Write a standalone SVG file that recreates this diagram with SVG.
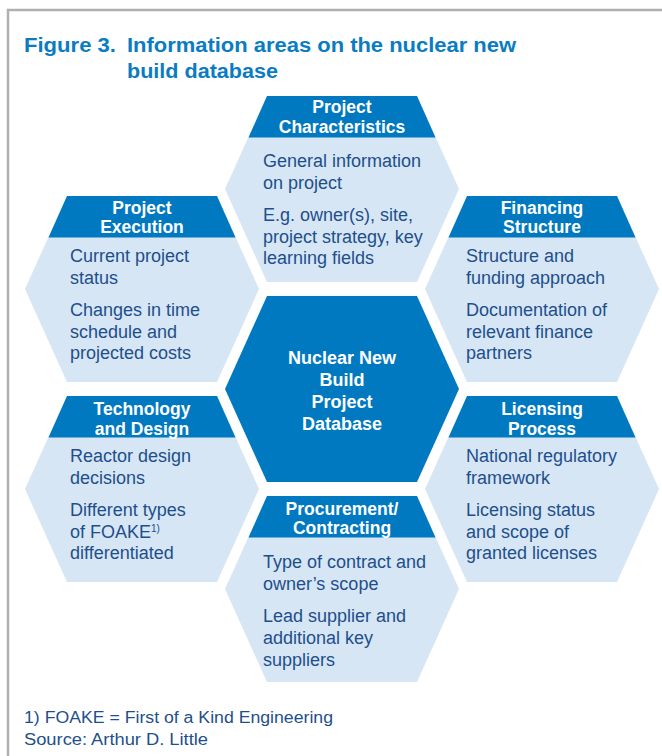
<svg xmlns="http://www.w3.org/2000/svg" width="662" height="756" viewBox="0 0 662 756">
<style>
.hex{fill:#d6e6f4}
.hdr{fill:#0079c1}
.core{fill:#0079c1}
.ht{font-family:"Liberation Sans",Arial,sans-serif;font-weight:bold;font-size:17.5px;fill:#fff;text-anchor:middle}
.ct{font-family:"Liberation Sans",Arial,sans-serif;font-weight:bold;font-size:18px;fill:#fff;text-anchor:middle}
.bt{font-family:"Liberation Sans",Arial,sans-serif;font-size:18px;fill:#1e4f8c}
.sup{font-size:10px}
.title{font-family:"Liberation Sans",Arial,sans-serif;font-weight:bold;font-size:20px;fill:#0a7cc2}
.foot{font-family:"Liberation Sans",Arial,sans-serif;font-size:16px;fill:#1e4f8c}
</style>
<defs>
<polygon id="hx" points="-75,-93 75,-93 117,0 75,93 -75,93 -117,0"/>
<polygon id="hh" points="-75,-93 75,-93 93.5,-51.5 -93.5,-51.5"/>
</defs>
<path d="M8,760 V10 H666" fill="none" stroke="#b0b0b0" stroke-width="2.5"/>
<g id="title">
<text class="title" x="24" y="52" textLength="92" lengthAdjust="spacingAndGlyphs">Figure 3.</text>
<text class="title" x="127" y="52" textLength="389" lengthAdjust="spacingAndGlyphs">Information areas on the nuclear new</text>
<text class="title" x="127" y="78" textLength="151" lengthAdjust="spacingAndGlyphs">build database</text>
</g>
<g id="connectors"></g>
<g id="project-characteristics">
<use href="#hx" class="hex" x="342" y="189"/>
<use href="#hh" class="hdr" x="342" y="189"/>
<text class="ht" x="342" y="113">Project</text>
<text class="ht" x="342" y="133">Characteristics</text>
<text class="bt" x="263" y="167">General information</text>
<text class="bt" x="263" y="188.5">on project</text>
<text class="bt" x="263" y="221">E.g. owner(s), site,</text>
<text class="bt" x="263" y="242.5">project strategy, key</text>
<text class="bt" x="263" y="264">learning fields</text>
</g>
<g id="project-execution">
<use href="#hx" class="hex" x="142" y="289"/>
<use href="#hh" class="hdr" x="142" y="289"/>
<text class="ht" x="142" y="213.5">Project</text>
<text class="ht" x="142" y="233">Execution</text>
<text class="bt" x="70" y="262">Current project</text>
<text class="bt" x="70" y="283.5">status</text>
<text class="bt" x="70" y="316">Changes in time</text>
<text class="bt" x="70" y="337.5">schedule and</text>
<text class="bt" x="70" y="358.5">projected costs</text>
</g>
<g id="financing-structure">
<use href="#hx" class="hex" x="542" y="289"/>
<use href="#hh" class="hdr" x="542" y="289"/>
<text class="ht" x="542" y="213.5">Financing</text>
<text class="ht" x="542" y="233">Structure</text>
<text class="bt" x="466" y="262">Structure and</text>
<text class="bt" x="466" y="283.5">funding approach</text>
<text class="bt" x="466" y="316">Documentation of</text>
<text class="bt" x="466" y="337.5">relevant finance</text>
<text class="bt" x="466" y="358.5">partners</text>
</g>
<g id="database">
<use href="#hx" class="core" x="342" y="389"/>
<text class="ct" x="342" y="364">Nuclear New</text>
<text class="ct" x="342" y="386">Build</text>
<text class="ct" x="342" y="407.5">Project</text>
<text class="ct" x="342" y="429.5">Database</text>
</g>
<g id="technology-design">
<use href="#hx" class="hex" x="142" y="489"/>
<use href="#hh" class="hdr" x="142" y="489"/>
<text class="ht" x="142" y="414.5">Technology</text>
<text class="ht" x="142" y="434.5">and Design</text>
<text class="bt" x="70" y="462">Reactor design</text>
<text class="bt" x="70" y="483.5">decisions</text>
<text class="bt" x="70" y="516">Different types</text>
<text class="bt" x="70" y="538">of FOAKE<tspan class="sup" dy="-6">1)</tspan></text>
<text class="bt" x="70" y="558.5">differentiated</text>
</g>
<g id="licensing-process">
<use href="#hx" class="hex" x="542" y="489"/>
<use href="#hh" class="hdr" x="542" y="489"/>
<text class="ht" x="542" y="414.5">Licensing</text>
<text class="ht" x="542" y="434.5">Process</text>
<text class="bt" x="466" y="462">National regulatory</text>
<text class="bt" x="466" y="483.5">framework</text>
<text class="bt" x="466" y="516">Licensing status</text>
<text class="bt" x="466" y="538">and scope of</text>
<text class="bt" x="466" y="558.5">granted licenses</text>
</g>
<g id="procurement-contracting">
<use href="#hx" class="hex" x="342" y="589"/>
<use href="#hh" class="hdr" x="342" y="589"/>
<text class="ht" x="342" y="514.5">Procurement/</text>
<text class="ht" x="342" y="534">Contracting</text>
<text class="bt" x="263" y="567.5">Type of contract and</text>
<text class="bt" x="263" y="589.5">owner’s scope</text>
<text class="bt" x="263" y="622">Lead supplier and</text>
<text class="bt" x="263" y="644">additional key</text>
<text class="bt" x="263" y="665.5">suppliers</text>
</g>
<g id="footnote">
<text class="foot" x="24" y="723" textLength="309" lengthAdjust="spacingAndGlyphs">1) FOAKE = First of a Kind Engineering</text>
<text class="foot" x="24" y="745" textLength="184" lengthAdjust="spacingAndGlyphs">Source: Arthur D. Little</text>
</g>
</svg>
